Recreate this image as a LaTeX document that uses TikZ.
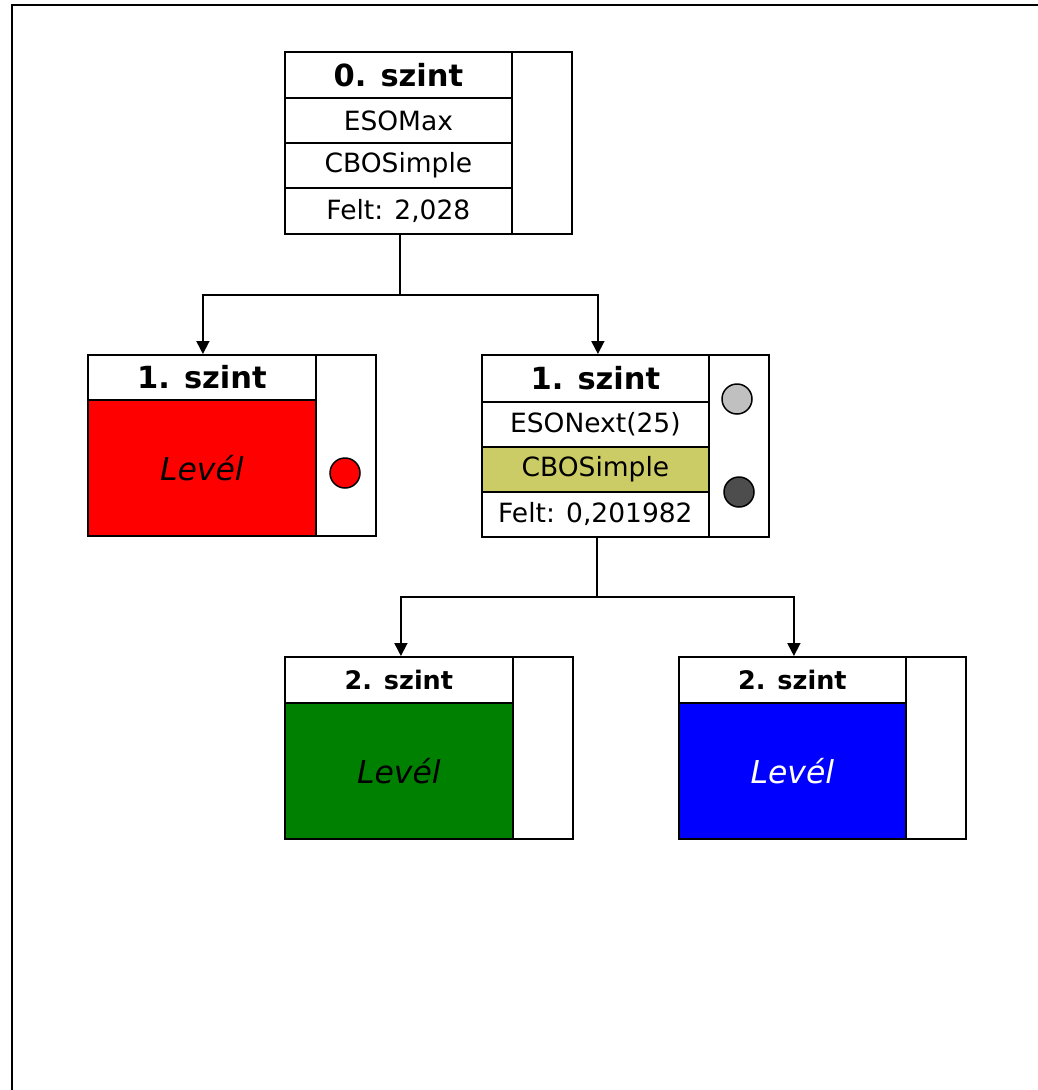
\documentclass[tikz,border=0pt]{standalone}
\usepackage{fontspec}
\setmainfont{DejaVu Sans}
\usetikzlibrary{arrows.meta}
\definecolor{olivecell}{RGB}{204,204,102}
\definecolor{lightdot}{RGB}{192,192,192}
\definecolor{darkdot}{RGB}{77,77,77}
\begin{document}
\begin{tikzpicture}[x=1pt,y=-1pt,
  cell/.style={draw, line width=1.8pt, inner sep=0pt, anchor=north west, align=center},
  side/.style={cell, minimum width=60pt},
  hdrA/.style={font=\fontsize{30.5}{30.5}\selectfont\bfseries},
  hdrB/.style={font=\fontsize{30.5}{30.5}\selectfont\bfseries},
  hdrC/.style={font=\fontsize{25.5}{25.5}\selectfont\bfseries},
  txt/.style={font=\fontsize{26.5}{26.5}\selectfont},
  leaf/.style={font=\fontsize{31.5}{31.5}\selectfont\itshape},
  dot/.style={circle, draw, line width=1.5pt, minimum size=30pt, inner sep=0pt},
  conn/.style={line width=1.8pt, -{Triangle[width=13pt,length=13pt]}}]
\useasboundingbox (0,0) rectangle (1038,1090);
% frame
\draw[line width=2.2pt] (12,1090) -- (12,5) -- (1038,5);

% level 0
\node[side, minimum height=182pt] (s0) at (511,51) {};
\node[cell, hdrA, minimum width=227pt, minimum height=46pt] (h0) at (284,51) {0. szint};
\node[cell, txt, minimum width=227pt, minimum height=45pt] (e0) at (284,97) {ESOMax};
\node[cell, txt, minimum width=227pt, minimum height=45pt] (c0) at (284,142) {CBOSimple};
\node[cell, txt, minimum width=227pt, minimum height=46pt] (f0) at (284,187) {Felt: 2,028};

% level 1 left
\node[side, minimum height=181pt] (s1l) at (315,354) {};
\node[cell, hdrB, minimum width=228pt, minimum height=45pt] (h1l) at (87,354) {1. szint};
\node[cell, leaf, fill=red, minimum width=228pt, minimum height=136pt] (b1l) at (87,399) {Levél};
\node[dot, fill=red] (d1l) at (345,473) {};

% level 1 right
\node[side, minimum height=182pt] (s1r) at (708,354) {};
\node[cell, hdrB, minimum width=227pt, minimum height=47pt] (h1r) at (481,354) {1. szint};
\node[cell, txt, minimum width=227pt, minimum height=45pt] (e1r) at (481,401) {ESONext(25)};
\node[cell, txt, fill=olivecell, minimum width=227pt, minimum height=45pt] (c1r) at (481,446) {CBOSimple};
\node[cell, txt, minimum width=227pt, minimum height=45pt] (f1r) at (481,491) {Felt: 0,201982};
\node[dot, fill=lightdot] (d1a) at (737,399) {};
\node[dot, fill=darkdot] (d1b) at (739,492) {};

% level 2 left
\node[side, minimum height=182pt] (s2l) at (512,656) {};
\node[cell, hdrC, minimum width=228pt, minimum height=46pt] (h2l) at (284,656) {2. szint};
\node[cell, leaf, fill={rgb,255:red,0;green,128;blue,0}, minimum width=228pt, minimum height=136pt] (b2l) at (284,702) {Levél};

% level 2 right
\node[side, minimum height=182pt] (s2r) at (905,656) {};
\node[cell, hdrC, minimum width=227pt, minimum height=46pt] (h2r) at (678,656) {2. szint};
\node[cell, leaf, text=white, fill=blue, minimum width=227pt, minimum height=136pt] (b2r) at (678,702) {Levél};

% connectors
\draw[conn] ([xshift=1.5pt]f0.south) -- ++(0,60) -| ([xshift=1pt]h1l.north);
\draw[conn] ([xshift=1.5pt]f0.south) -- ++(0,60) -| ([xshift=2.5pt]h1r.north);
\draw[conn] ([xshift=1.5pt]f1r.south) -- ++(0,59) -| ([xshift=2pt]h2l.north);
\draw[conn] ([xshift=1.5pt]f1r.south) -- ++(0,59) -| ([xshift=1.5pt]h2r.north);
\end{tikzpicture}
\end{document}
